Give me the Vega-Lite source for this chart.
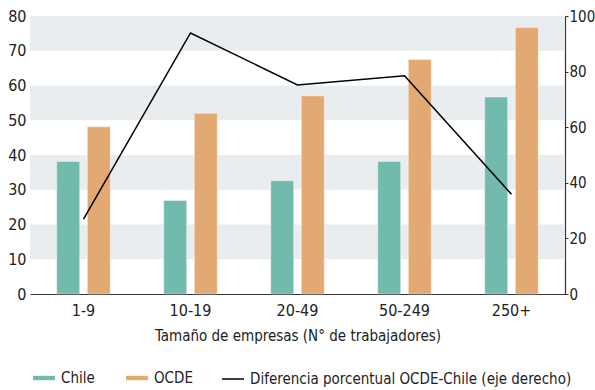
{
  "$schema": "https://vega.github.io/schema/vega-lite/v6.json",
  "width": 535,
  "height": 278,
  "autosize": "none",
  "padding": {"left": 30, "top": 16, "right": 30, "bottom": 96},
  "datasets": {
    "bars": [
      {"tam": "1-9", "serie": "Chile", "v": 38.1},
      {"tam": "1-9", "serie": "OCDE", "v": 48.1},
      {"tam": "10-19", "serie": "Chile", "v": 26.9},
      {"tam": "10-19", "serie": "OCDE", "v": 52.0},
      {"tam": "20-49", "serie": "Chile", "v": 32.6},
      {"tam": "20-49", "serie": "OCDE", "v": 57.0},
      {"tam": "50-249", "serie": "Chile", "v": 38.1},
      {"tam": "50-249", "serie": "OCDE", "v": 67.5},
      {"tam": "250+", "serie": "Chile", "v": 56.7},
      {"tam": "250+", "serie": "OCDE", "v": 76.7}
    ],
    "line": [
      {"tam": "1-9", "serie": "Diferencia porcentual OCDE-Chile (eje derecho)", "d": 26.9},
      {"tam": "10-19", "serie": "Diferencia porcentual OCDE-Chile (eje derecho)", "d": 93.9},
      {"tam": "20-49", "serie": "Diferencia porcentual OCDE-Chile (eje derecho)", "d": 75.2},
      {"tam": "50-249", "serie": "Diferencia porcentual OCDE-Chile (eje derecho)", "d": 78.5},
      {"tam": "250+", "serie": "Diferencia porcentual OCDE-Chile (eje derecho)", "d": 35.9}
    ],
    "bands": [
      {"y0": 10, "y1": 20},
      {"y0": 30, "y1": 40},
      {"y0": 50, "y1": 60},
      {"y0": 70, "y1": 80}
    ]
  },
  "layer": [
    {
      "data": {"name": "bands"},
      "mark": {"type": "rect", "color": "#E9EDF0"},
      "encoding": {
        "y": {"field": "y0", "type": "quantitative", "scale": {"domain": [0, 80], "nice": false}, "axis": null},
        "y2": {"field": "y1"}
      }
    },
    {
      "data": {"name": "bars"},
      "mark": {"type": "bar", "stroke": "#ffffff", "strokeOpacity": 0.4, "strokeWidth": 1},
      "encoding": {
        "x": {
          "field": "tam", "type": "nominal", "sort": ["1-9", "10-19", "20-49", "50-249", "250+"],
          "scale": {"paddingInner": 0.5, "paddingOuter": 0.25},
          "axis": {
            "orient": "bottom", "title": "Tamaño de empresas (N° de trabajadores)",
            "domain": true, "domainColor": "#333333", "domainWidth": 1.2, "ticks": false,
            "labelAngle": 0, "labelPadding": 8, "labelFontSize": 16, "labelColor": "#222222",
            "titleFontSize": 15, "titleFontWeight": "normal", "titleColor": "#222222", "titlePadding": 10
          }
        },
        "xOffset": {"field": "serie", "type": "nominal", "scale": {"paddingInner": 0.25, "paddingOuter": 0}},
        "y": {
          "field": "v", "type": "quantitative", "scale": {"domain": [0, 80], "nice": false},
          "axis": {
            "orient": "left", "title": null, "values": [0, 10, 20, 30, 40, 50, 60, 70, 80],
            "domain": false, "ticks": false, "grid": false, "labelPadding": 4,
            "labelFontSize": 16, "labelColor": "#222222"
          }
        },
        "color": {
          "field": "serie", "type": "nominal",
          "scale": {"domain": ["Chile", "OCDE"], "range": ["#71BAAC", "#E3A972"]},
          "legend": {
            "orient": "none", "legendX": 3, "legendY": 351, "direction": "horizontal", "title": null,
            "symbolType": "M-1,-0.2L1,-0.2L1,0.2L-1,0.2Z", "symbolSize": 484, "symbolStrokeWidth": 0,
            "labelFontSize": 15, "labelColor": "#222222", "columnPadding": 31, "labelOffset": 6
          }
        }
      }
    },
    {
      "data": {"name": "line"},
      "mark": {"type": "line", "color": "#000000", "strokeWidth": 1.5},
      "encoding": {
        "x": {"field": "tam", "type": "nominal", "sort": ["1-9", "10-19", "20-49", "50-249", "250+"]},
        "y": {
          "field": "d", "type": "quantitative", "scale": {"domain": [0, 100], "nice": false},
          "axis": {
            "orient": "right", "title": null, "values": [0, 20, 40, 60, 80, 100],
            "domain": true, "domainColor": "#333333", "domainWidth": 1.2, "ticks": true, "tickColor": "#333333",
            "tickSize": 3, "grid": false, "labelPadding": 1, "labelFontSize": 15, "labelColor": "#222222"
          }
        },
        "stroke": {
          "field": "serie", "type": "nominal",
          "scale": {"domain": ["Diferencia porcentual OCDE-Chile (eje derecho)"], "range": ["#000000"]},
          "legend": {
            "orient": "none", "legendX": 191, "legendY": 351, "title": null,
            "symbolType": "stroke", "symbolSize": 484, "symbolStrokeWidth": 1.5,
            "labelFontSize": 15, "labelLimit": 420, "labelColor": "#222222", "labelOffset": 5
          }
        }
      }
    }
  ],
  "resolve": {"scale": {"y": "independent"}},
  "config": {
    "view": {"stroke": null},
    "font": "'DejaVu Sans Condensed', Roboto, sans-serif"
  }
}
